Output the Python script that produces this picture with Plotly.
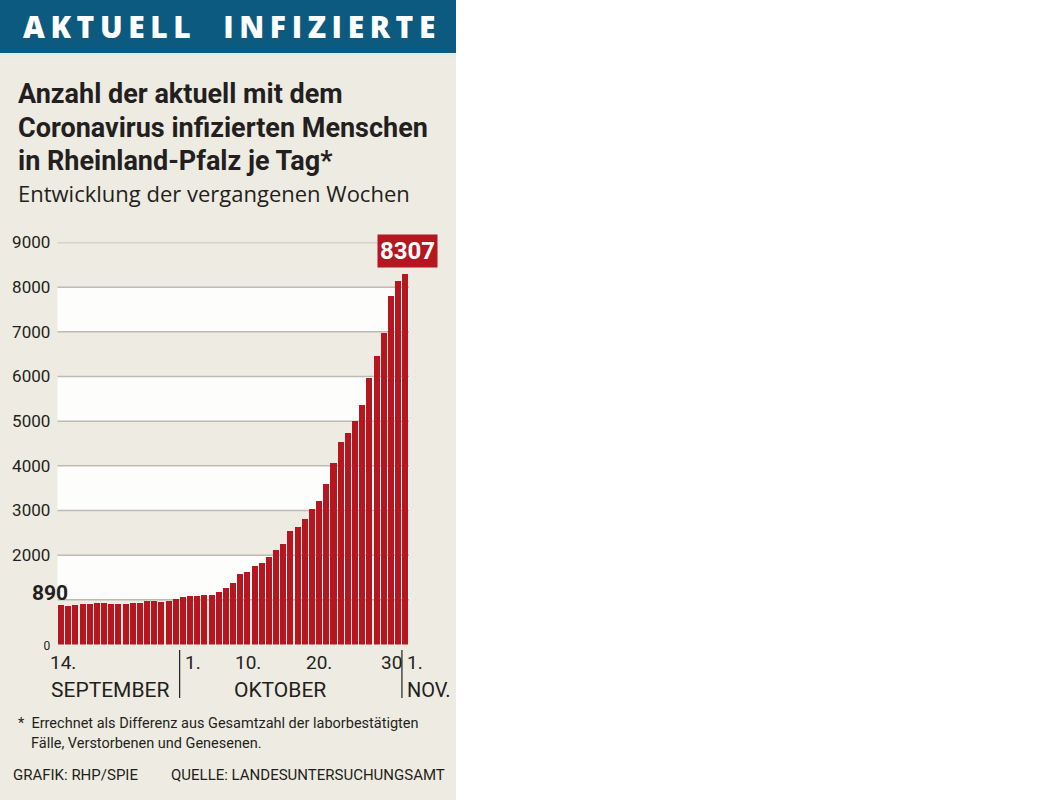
import pandas as pd
import plotly.graph_objects as go

W, H = 1052, 800

# ---------------- data ----------------
dates = [d.strftime("%Y-%m-%d") for d in pd.date_range("2020-09-14", "2020-11-01", freq="D")]
values = [890, 868, 905, 913, 928, 951, 930, 913, 913, 928,
          935, 951, 980, 989, 973, 996, 1020, 1065, 1100, 1107,
          1130, 1130, 1197, 1286, 1398, 1584, 1644, 1778, 1846, 1965,
          2136, 2271, 2562, 2645, 2830, 3054, 3233, 3613, 4067, 4553,
          4750, 5026, 5380, 5969, 6477, 6984, 7819, 8139, 8307]
y_ticks = [0, 2000, 3000, 4000, 5000, 6000, 7000, 8000, 9000]
y_ticktext = ['<span style="font-size:12px">0</span>', "2000", "3000", "4000", "5000",
              "6000", "7000", "8000", "9000"]
grid_levels = [1000, 2000, 3000, 4000, 5000, 6000, 7000, 8000, 9000]
white_bands = [(1000, 2000), (3000, 4000), (5000, 6000), (7000, 8000)]
day_labels = [("2020-09-14", "14."), ("2020-10-10", "10."), ("2020-10-20", "20."), ("2020-10-30", "30")]
month_starts = [("2020-10-01", "1."), ("2020-11-01", "1.")]

BEIGE = "#eeebe2"
BLUE = "#0c5a80"
RED = "#b5161f"
TXT = "#231f20"
FONT = "Roboto, 'Open Sans', sans-serif"
FONT2 = "'Open Sans', Roboto, sans-serif"


def px(x):
    return x / W


def py(y):
    return 1 - y / H


n = len(dates)
x_lo, x_hi = -0.56, n - 0.5

fig = go.Figure()
fig.add_trace(go.Bar(x=dates, y=values, marker=dict(color=RED, line=dict(width=0)),
                     width=0.84, hoverinfo="skip", cliponaxis=False))

shapes = []
shapes.append(dict(type="rect", xref="paper", yref="paper", x0=0, x1=px(456), y0=0, y1=1,
                   fillcolor=BEIGE, line=dict(width=0), layer="below"))
shapes.append(dict(type="rect", xref="paper", yref="paper", x0=0, x1=px(456), y0=py(53), y1=1,
                   fillcolor=BLUE, line=dict(width=0), layer="below"))
shapes.append(dict(type="rect", xref="paper", yref="paper", x0=0, x1=px(456), y0=py(57), y1=py(53),
                   fillcolor="#e4ede4", line=dict(width=0), layer="below"))
for lo, hi in white_bands:
    shapes.append(dict(type="rect", xref="x", yref="y", x0=x_lo, x1=x_hi, y0=lo, y1=hi,
                       fillcolor="#fdfdfb", line=dict(width=0), layer="below"))
for g in grid_levels:
    shapes.append(dict(type="line", xref="x", yref="y", x0=x_lo, x1=x_hi, y0=g, y1=g,
                       line=dict(color="#bdbab3", width=1.5), layer="below"))
for d, _ in month_starts:
    i = dates.index(d) - 0.5
    shapes.append(dict(type="line", xref="x", yref="paper", x0=i, x1=i, y0=py(698), y1=py(650),
                       line=dict(color=TXT, width=1.2)))

ann = []
ann.append(dict(xref="paper", yref="paper", x=px(21), y=py(27), xanchor="left", yanchor="middle",
                text='<span style="letter-spacing:5.6px">AKTUELL  INFIZIERTE</span>', showarrow=False,
                font=dict(family="'Open Sans', sans-serif", size=30, color="white", weight=800)))
title_lines = [("Anzahl der aktuell mit dem", 94), ("Coronavirus infizierten Menschen", 127.5),
               ("in Rheinland-Pfalz je Tag*", 161)]
for t, yy in title_lines:
    ann.append(dict(xref="paper", yref="paper", x=px(16), y=py(yy), xanchor="left", yanchor="middle",
                    text=t, showarrow=False,
                    font=dict(family=FONT, size=27, color=TXT, weight=700)))
ann.append(dict(xref="paper", yref="paper", x=px(16), y=py(193), xanchor="left", yanchor="middle",
                text="Entwicklung der vergangenen Wochen", showarrow=False,
                font=dict(family=FONT2, size=22, color=TXT)))
# value labels
ann.append(dict(x=dates[0], y=values[0], xref="x", yref="y", text="<b>890</b>", showarrow=False,
                xanchor="right", yanchor="bottom", xshift=9, yshift=-2,
                font=dict(family=FONT, size=21, color=TXT)))
ann.append(dict(x=dates[-1], y=values[-1], xref="x", yref="y", text="<b>8307</b>", showarrow=False,
                xanchor="center", yanchor="bottom", xshift=2, yshift=5,
                bgcolor=RED, borderpad=2,
                font=dict(family=FONT, size=24, color="white")))
# x labels
for d, t in day_labels:
    ann.append(dict(x=d, xref="x", yref="paper", y=py(662), text=t, showarrow=False,
                    xanchor="center", yanchor="middle", xshift=(2 if d == dates[0] else 0),
                    font=dict(family=FONT, size=19, color=TXT)))
for d, t in month_starts:
    ann.append(dict(x=dates.index(d) - 0.5, xref="x", yref="paper", y=py(662), text=t, showarrow=False,
                    xanchor="left", yanchor="middle", xshift=3, font=dict(family=FONT, size=19, color=TXT)))
ann.append(dict(x=0, xref="x", yref="paper", y=py(690), text="SEPTEMBER", showarrow=False,
                xanchor="left", yanchor="middle", xshift=-12, font=dict(family=FONT, size=21, color=TXT)))
ann.append(dict(x=dates.index("2020-10-14") + 0.5, xref="x", yref="paper", y=py(690), text="OKTOBER",
                showarrow=False, xanchor="center", yanchor="middle",
                font=dict(family=FONT, size=21, color=TXT)))
ann.append(dict(x=dates.index("2020-11-01") - 0.5, xref="x", yref="paper", y=py(690), text="NOV.",
                showarrow=False, xanchor="left", yanchor="middle", xshift=3,
                font=dict(family=FONT, size=20, color=TXT)))
# footnotes
ann.append(dict(xref="paper", yref="paper", x=px(16), y=py(723), xanchor="left", yanchor="middle",
                text="*  Errechnet als Differenz aus Gesamtzahl der laborbestätigten", showarrow=False,
                font=dict(family=FONT, size=14.5, color=TXT)))
ann.append(dict(xref="paper", yref="paper", x=px(29), y=py(743), xanchor="left", yanchor="middle",
                text="Fälle, Verstorbenen und Genesenen.", showarrow=False,
                font=dict(family=FONT, size=14.5, color=TXT)))
ann.append(dict(xref="paper", yref="paper", x=px(11), y=py(775), xanchor="left", yanchor="middle",
                text="GRAFIK: RHP/SPIE", showarrow=False, font=dict(family=FONT, size=15, color=TXT)))
ann.append(dict(xref="paper", yref="paper", x=px(169), y=py(775), xanchor="left", yanchor="middle",
                text="QUELLE: LANDESUNTERSUCHUNGSAMT", showarrow=False,
                font=dict(family=FONT, size=15, color=TXT)))

fig.update_layout(
    width=W, height=H, margin=dict(l=0, r=0, t=0, b=0, autoexpand=False),
    paper_bgcolor="white", plot_bgcolor="rgba(0,0,0,0)",
    showlegend=False, bargap=0,
    shapes=shapes, annotations=ann,
    xaxis=dict(type="category", range=[x_lo, x_hi], domain=[px(57.3), px(409.1)], automargin=False,
               showticklabels=False, showgrid=False, zeroline=False, showline=False, ticks=""),
    yaxis=dict(range=[0, 9000], domain=[py(644.5), py(242.5)], tickvals=y_ticks, ticktext=y_ticktext,
               automargin=False,
               showgrid=False, zeroline=False, showline=False, ticks="", ticklabelstandoff=6,
               tickfont=dict(family=FONT, size=17, color=TXT)),
)

fig.write_html("out.html", post_script="document.body.style.margin='0';")
